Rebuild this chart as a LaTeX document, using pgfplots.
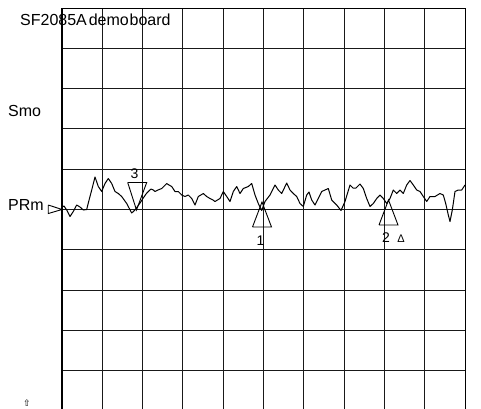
\documentclass[border=0pt]{standalone}
\usepackage{fontspec}
\setmainfont{Liberation Sans}
\newfontfamily\dejavu{DejaVu Sans}
\usepackage{pgfplots}
\pgfplotsset{compat=1.18}
\pgfplotstableread{
x y
62 207
64 206
66.7 210
70 216.5
73.3 211.5
76.7 205
80 207
83.3 210
86.7 209.5
88.3 203
91.7 190
95 177
98.3 186.5
101.7 191.5
105 183.5
108.3 178.5
111.7 183.5
115 191.5
118.3 193.5
121.7 196.5
126.7 203.5
131.7 213
135 210
140 203
143.3 198
146 194
148.3 191.5
151 189
153.3 190
155 191.5
158 190
161.7 188.5
166.7 183.5
169 185
171.7 186.5
175 191.5
178.3 191.5
181.7 195
185 196.5
188.3 195
191.7 198.5
195 205
198.3 196.5
203.3 193.5
206.7 196.5
210 198.5
213 200
215 201.5
220 198.5
223.3 191.5
226.7 196.5
230 201.5
233.3 191.5
236.7 186.5
240 193.5
243.3 188.5
248.3 186.5
251.7 183.5
255 195
258.3 203.5
261.7 210.5
265 201.5
270 195
275 185
278.3 190
281.7 193.5
286.7 183
290 190
293.3 193.5
296.7 196.5
300 203.5
303.3 206.5
306.7 195
309 192
311.7 200
315 205
318.3 198.5
321.7 191.5
325 190
328.3 188.5
331.7 200
336.7 205
341 210.5
345 201.5
350 185
353 188
356 188
360 184
363.3 188.5
366.7 198.5
370 206.5
373.3 203.5
376.7 198.5
380 195
383.3 198.5
386.7 203.5
390 198.5
393.3 190
396.7 193.5
400 190
403.3 193.5
406.7 185
410 180.5
413.3 185
416.7 190
420 191.5
423.3 196.5
426.7 201.5
430 196.5
435 196.5
440 193.5
443.3 195
445.7 203.5
448.3 215
450 221.5
452.3 210
455 191.5
458.3 190
461.7 190
465 185
}\trace
\begin{document}
\begin{tikzpicture}
\begin{axis}[
  scale only axis, width=403pt, height=403pt,
  xmin=62, xmax=465, ymin=8, ymax=411, y dir=reverse,
  xtick={62,102.3,142.6,182.9,223.2,263.5,303.8,344.1,384.4,424.7,465},
  ytick={8,48.3,88.6,128.9,169.2,209.5,249.8,290.1,330.4,370.7,411},
  xticklabels={}, yticklabels={},
  major tick length=0pt, tick style={draw=none},
  grid=major, major grid style={black!90, line width=1pt},
  axis line style={black, line width=1pt},
  clip=false,
]
\addplot[black, line width=1pt, line join=round] table {\trace};
% markers
\addplot[black, line width=0.9pt] coordinates {(127.7,182.5) (146.7,182.5) (136.5,210) (127.7,182.5)};
\addplot[black, line width=0.9pt] coordinates {(252.5,227) (271.5,227) (262,202) (252.5,227)};
\addplot[black, line width=0.9pt] coordinates {(379,225) (398,225) (388.5,200) (379,225)};
\addplot[black, line width=0.9pt] coordinates {(48.3,205) (48.3,213.5) (62,209.5) (48.3,205)};
\node[anchor=base west, inner sep=0pt, font=\fontsize{16}{19}\selectfont] at (axis cs:20,25) {SF2085A\hspace{0.12em}demo\hspace{0.05em}board};
\node[anchor=base west, inner sep=0pt, font=\fontsize{16}{19}\selectfont] at (axis cs:8,116) {Smo};
\node[anchor=base west, inner sep=0pt, font=\fontsize{16}{19}\selectfont] at (axis cs:8,210) {PRm};
\node[anchor=base, inner sep=0pt, font=\fontsize{14}{16}\selectfont] at (axis cs:134.5,178) {3};
\node[anchor=base, inner sep=0pt, font=\fontsize{14}{16}\selectfont] at (axis cs:260.5,245) {1};
\node[anchor=base, inner sep=0pt, font=\fontsize{14}{16}\selectfont] at (axis cs:386,242) {2};
\node[anchor=base, inner sep=0pt, font=\fontsize{11}{13}\selectfont] at (axis cs:401,242) {Δ};
\node[anchor=south, inner sep=0pt, font=\dejavu\fontsize{9}{11}\selectfont] at (axis cs:27,407) {⇧};
\coordinate (bbA) at (axis cs:0,0);
\coordinate (bbB) at (axis cs:481,408);
\end{axis}
\pgfresetboundingbox
\path[use as bounding box] (bbA) rectangle (bbB);
\end{tikzpicture}
\end{document}
